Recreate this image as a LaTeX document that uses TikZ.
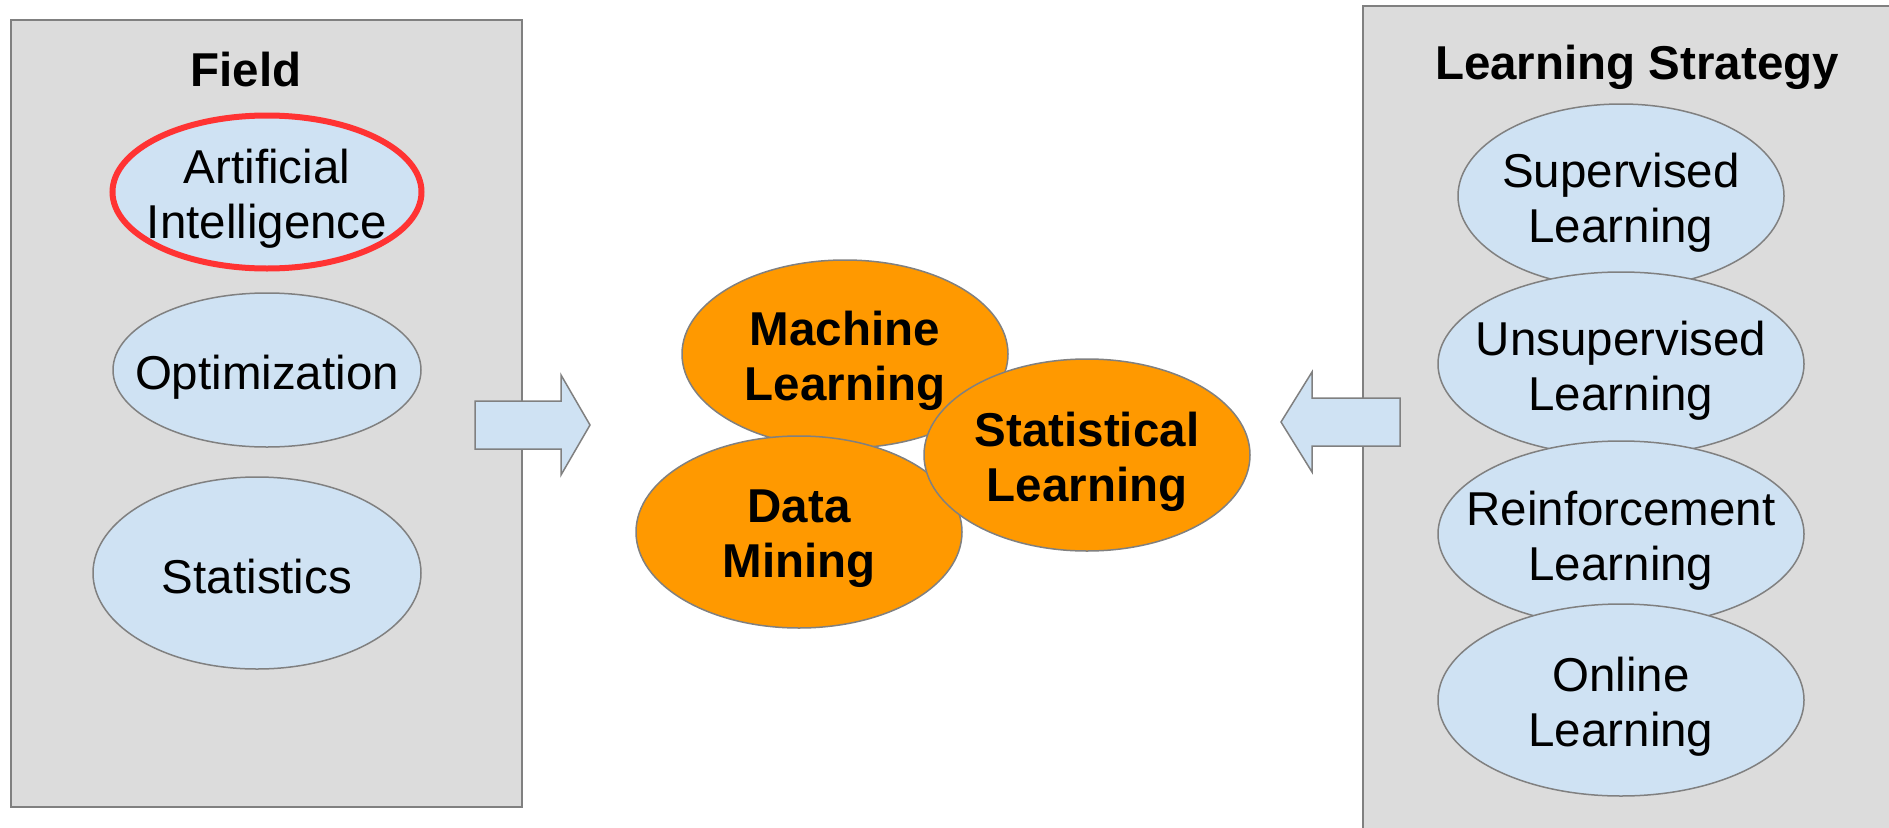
\documentclass[tikz,border=0pt]{standalone}
\usepackage{fontspec}
\setmainfont{Liberation Sans}
\usetikzlibrary{shapes.geometric}
\definecolor{boxgrey}{RGB}{220,220,220}
\definecolor{edgegrey}{RGB}{128,128,128}
\definecolor{paleblue}{RGB}{207,226,243}
\definecolor{orangefill}{RGB}{255,153,0}
\definecolor{redline}{RGB}{255,51,51}
\begin{document}
\begin{tikzpicture}[x=1pt,y=-1pt,
  panel/.style={rectangle, fill=boxgrey, draw=edgegrey, line width=2pt, inner sep=0pt, anchor=north west},
  blueell/.style={ellipse, draw=edgegrey, line width=1.5pt, fill=paleblue, inner sep=0pt},
  orangeell/.style={ellipse, draw=edgegrey, line width=1.5pt, fill=orangefill, inner sep=0pt},
  bodytext/.style={inner sep=0pt, align=center, font=\fontsize{47.5}{55}\selectfont, yshift=-7pt},
  boldtext/.style={bodytext, font=\fontsize{47.5}{55}\selectfont\bfseries},
  titletext/.style={inner sep=0pt, anchor=base, font=\fontsize{47.5}{55}\selectfont\bfseries},
  blockarrow/.style={fill=paleblue, draw=edgegrey, line width=1.5pt, line join=miter}
]
\useasboundingbox (0,0) rectangle (1889,827);
\fill[white] (0,0) rectangle (1889,827);

% panels
\node[panel, minimum width=511.5pt, minimum height=787pt] (fieldbox) at (9.5,19) {};
\node[panel, minimum width=560pt, minimum height=840pt] (stratbox) at (1362,5) {};

% titles
\node[titletext] (fieldtitle) at (246,86) {Field};
\node[titletext] (strattitle) at (1637,79) {Learning Strategy};

% field ellipses
\node[blueell, draw=redline, line width=6pt, minimum width=309pt, minimum height=153pt] (ai) at (267,192) {};
\node[bodytext] (aitext) at (ai.center) {Artificial\\Intelligence};
\node[blueell, minimum width=308pt, minimum height=154pt] (opt) at (267,370) {};
\node[bodytext] (opttext) at (opt.center) {Optimization};
\node[blueell, minimum width=328pt, minimum height=192pt] (stat) at (257,573) {};
\node[bodytext, yshift=3pt] (stattext) at (stat.center) {Statistics};

% strategy ellipses
\node[blueell, minimum width=326pt, minimum height=184pt] (sup) at (1621,196) {};
\node[bodytext] (suptext) at (sup.center) {Supervised\\Learning};
\node[blueell, minimum width=366pt, minimum height=184pt] (unsup) at (1621,364) {};
\node[bodytext] (unsuptext) at (unsup.center) {Unsupervised\\Learning};
\node[blueell, minimum width=366pt, minimum height=186pt] (reinf) at (1621,534) {};
\node[bodytext] (reinftext) at (reinf.center) {Reinforcement\\Learning};
\node[blueell, minimum width=366pt, minimum height=192pt] (online) at (1621,700) {};
\node[bodytext] (onlinetext) at (online.center) {Online\\Learning};

% block arrows
\draw[blockarrow] (475,401) -- (561,401) -- (561,375) -- (590,425) -- (561,475) -- (561,449) -- (475,449) -- cycle;
\draw[blockarrow] (1400,398) -- (1312,398) -- (1312,372) -- (1281,422) -- (1312,472) -- (1312,446) -- (1400,446) -- cycle;

% central cluster
\node[orangeell, minimum width=326pt, minimum height=188pt] (ml) at (845,354) {};
\node[boldtext] (mltext) at (ml.center) {Machine\\Learning};
\node[orangeell, minimum width=326pt, minimum height=192pt] (dm) at (799,532) {};
\node[boldtext] (dmtext) at (dm.center) {Data\\Mining};
\node[orangeell, minimum width=326pt, minimum height=192pt] (sl) at (1087,455) {};
\node[boldtext] (sltext) at (sl.center) {Statistical\\Learning};
\end{tikzpicture}
\end{document}
